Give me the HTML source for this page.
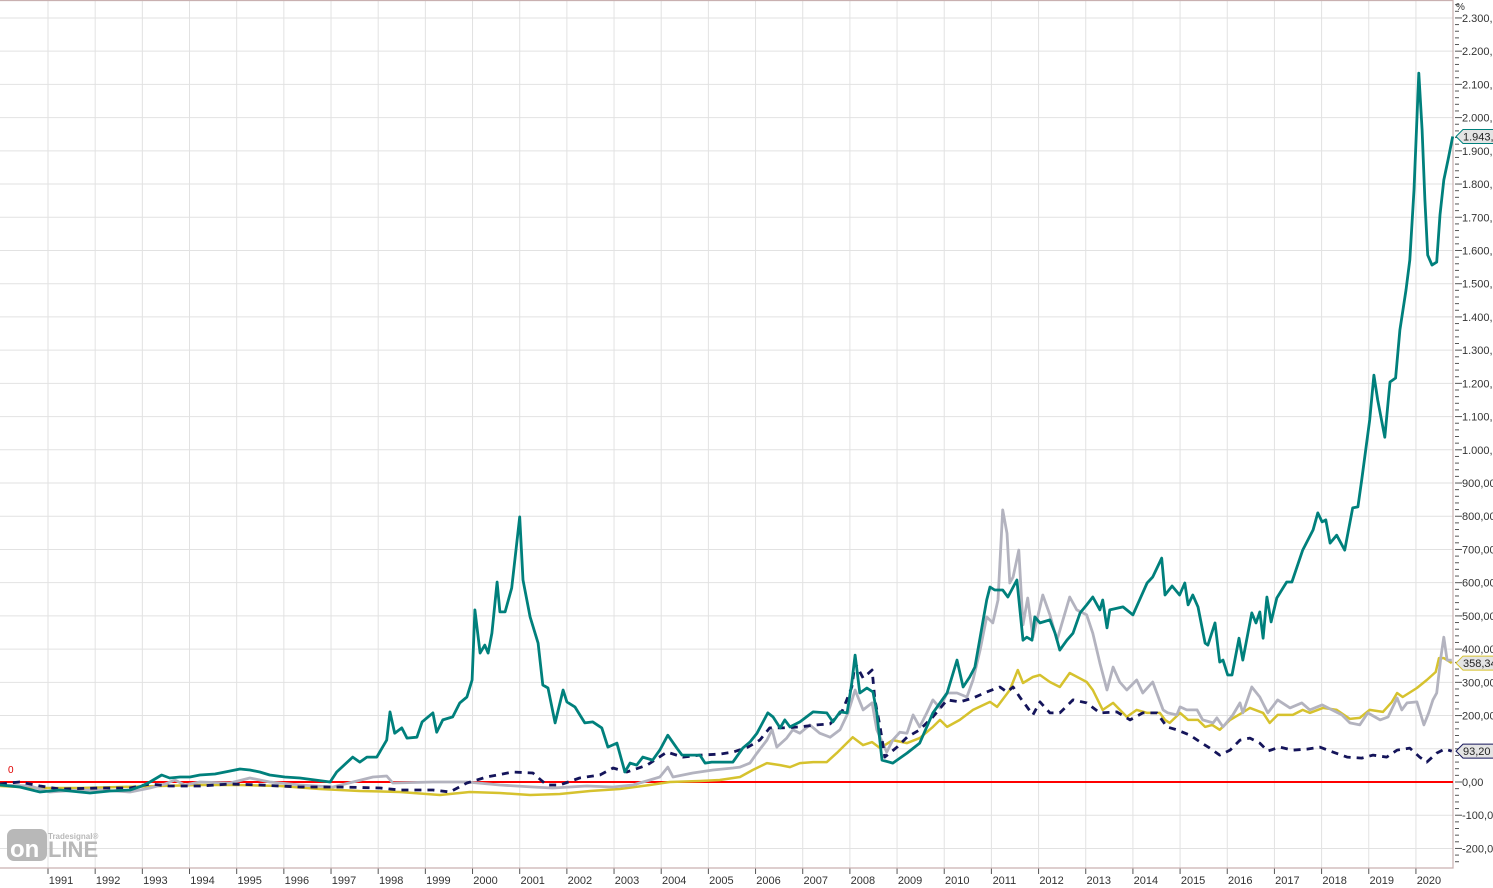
<!DOCTYPE html>
<html><head><meta charset="utf-8"><style>
html,body{margin:0;padding:0;background:#fff;width:1493px;height:888px;overflow:hidden}
svg{display:block;font-family:"Liberation Sans",sans-serif}
</style></head><body>
<svg id="chart" width="1493" height="888" viewBox="0 0 1493 888" xmlns="http://www.w3.org/2000/svg">
<g id="grid"></g>
<g id="axes"></g>
<g id="series"></g>
<g id="tags"></g>
<g>
<rect x="7" y="829" width="40" height="32" rx="7" fill="#b8b8b8"/>
<text x="10" y="857" font-size="24" font-weight="bold" fill="#fff">on</text>
<text x="48" y="857" font-size="22" font-weight="bold" fill="#b8b8b8">LINE</text>
<text x="48" y="839" font-size="8" font-weight="bold" fill="#b8b8b8">Tradesignal®</text>
</g>
<text x="8" y="773" font-size="10" fill="#e00000">0</text>
</svg>
<script>
const years=[1991,1992,1993,1994,1995,1996,1997,1998,1999,2000,2001,2002,2003,2004,2005,2006,2007,2008,2009,2010,2011,2012,2013,2014,2015,2016,2017,2018,2019,2020];
const yTicks=[-200,-100,0,100,200,300,400,500,600,700,800,900,1000,1100,1200,1300,1400,1500,1600,1700,1800,1900,2000,2100,2200,2300];
const yTickLabels=["-200,00","-100,00","0,00","100,00","200,00","300,00","400,00","500,00","600,00","700,00","800,00","900,00","1.000,00","1.100,00","1.200,00","1.300,00","1.400,00","1.500,00","1.600,00","1.700,00","1.800,00","1.900,00","2.000,00","2.100,00","2.200,00","2.300,00"];

const tealT=[1989.98,1990.40,1990.83,1991.25,1991.89,1992.31,1992.74,1992.99,1993.16,1993.41,1993.58,1993.80,1994.01,1994.22,1994.54,1994.86,1995.07,1995.28,1995.49,1995.70,1996.02,1996.34,1996.98,1997.12,1997.46,1997.61,1997.76,1997.97,1998.18,1998.25,1998.35,1998.50,1998.61,1998.82,1998.93,1999.16,1999.24,1999.37,1999.58,1999.73,1999.88,1999.99,2000.05,2000.16,2000.26,2000.33,2000.41,2000.52,2000.58,2000.69,2000.83,2001.00,2001.07,2001.22,2001.39,2001.49,2001.60,2001.75,2001.92,2002.00,2002.17,2002.38,2002.55,2002.74,2002.87,2003.06,2003.23,2003.34,2003.48,2003.61,2003.82,2003.97,2004.14,2004.33,2004.44,2004.82,2004.93,2005.07,2005.24,2005.52,2005.73,2005.88,2006.03,2006.26,2006.37,2006.52,2006.62,2006.73,2006.94,2007.22,2007.51,2007.64,2007.79,2007.94,2008.04,2008.11,2008.21,2008.36,2008.49,2008.57,2008.68,2008.91,2009.21,2009.48,2009.76,2010.06,2010.27,2010.40,2010.54,2010.65,2010.90,2010.97,2011.07,2011.24,2011.35,2011.54,2011.67,2011.75,2011.86,2011.92,2012.03,2012.24,2012.35,2012.45,2012.60,2012.73,2012.88,2013.02,2013.15,2013.30,2013.36,2013.45,2013.51,2013.79,2014.00,2014.30,2014.42,2014.61,2014.68,2014.83,2014.99,2015.10,2015.17,2015.27,2015.38,2015.53,2015.59,2015.74,2015.84,2015.91,2016.01,2016.10,2016.25,2016.33,2016.52,2016.61,2016.69,2016.76,2016.84,2016.93,2017.05,2017.26,2017.37,2017.60,2017.82,2017.92,2018.01,2018.09,2018.18,2018.32,2018.49,2018.66,2018.77,2018.85,2019.02,2019.11,2019.19,2019.34,2019.45,2019.57,2019.66,2019.79,2019.87,2019.96,2020.06,2020.13,2020.19,2020.25,2020.34,2020.44,2020.51,2020.59,2020.68,2020.78];
const tealV=[-9,-15,-30,-24,-33,-27,-24,-12,0,21,12,15,15,21,24,33,39,36,30,21,15,12,0,30,75,60,75,75,126,211,147,163,132,135,181,208,150,187,196,238,256,307,518,388,412,388,448,602,512,512,584,798,608,497,418,292,283,178,277,241,226,178,181,163,105,117,30,57,51,75,66,96,141,102,81,81,57,60,60,60,102,120,147,208,196,163,187,166,181,211,208,181,211,208,298,382,268,283,271,208,66,57,87,117,208,268,367,286,316,346,548,587,578,578,557,608,427,436,427,497,479,488,448,397,427,448,509,533,557,518,548,464,518,527,503,599,617,674,563,590,563,599,533,563,527,418,412,479,361,367,322,322,433,367,509,479,512,433,557,482,554,602,602,698,759,810,783,789,719,743,698,825,828,909,1090,1225,1150,1038,1204,1216,1361,1481,1571,1782,2134,1963,1752,1586,1556,1565,1707,1812,1872,1943];

const grayT=[1989.98,1990.62,1991.04,1991.68,1992.10,1992.74,1993.16,1993.48,1993.69,1993.90,1994.22,1994.86,1995.28,1995.70,1996.34,1997.04,1997.89,1998.18,1998.31,1999.16,1999.88,2000.58,2001.28,2001.70,2002.42,2002.98,2003.40,2003.76,2003.97,2004.14,2004.25,2004.67,2005.10,2005.52,2005.67,2005.88,2006.03,2006.24,2006.35,2006.45,2006.66,2006.79,2006.94,2007.15,2007.36,2007.58,2007.79,2007.96,2008.11,2008.28,2008.47,2008.57,2008.78,2008.91,2009.06,2009.21,2009.34,2009.48,2009.63,2009.76,2009.91,2010.06,2010.27,2010.48,2010.61,2010.76,2010.90,2011.03,2011.14,2011.24,2011.33,2011.39,2011.46,2011.58,2011.67,2011.77,2011.88,2012.09,2012.24,2012.39,2012.66,2012.81,2013.02,2013.15,2013.30,2013.45,2013.58,2013.72,2013.87,2014.08,2014.21,2014.42,2014.64,2014.74,2014.93,2015.00,2015.14,2015.36,2015.48,2015.70,2015.78,2015.91,2016.12,2016.27,2016.33,2016.52,2016.69,2016.86,2017.07,2017.33,2017.58,2017.75,2018.01,2018.22,2018.43,2018.60,2018.81,2018.98,2019.24,2019.41,2019.60,2019.70,2019.81,2020.02,2020.17,2020.27,2020.36,2020.44,2020.53,2020.59,2020.66,2020.76];
const grayV=[-9,-12,-30,-24,-24,-30,-18,-6,6,-9,0,-3,12,0,-9,-15,15,18,-3,0,0,-9,-15,-18,-12,-15,-9,6,15,45,15,27,36,42,45,57,87,126,157,105,132,157,147,172,147,135,157,208,277,217,238,157,90,126,150,147,202,166,208,247,223,268,268,256,307,397,497,479,548,819,749,599,617,698,473,554,436,563,503,427,557,518,503,448,358,277,346,301,277,307,268,301,217,208,202,226,217,217,187,178,193,166,202,238,208,286,256,208,247,223,238,217,232,217,202,178,172,208,187,196,253,217,238,241,172,208,247,268,376,436,367,367];

const yellowT=[1989.98,1990.83,1991.68,1992.52,1993.37,1994.22,1995.07,1995.92,1996.76,1997.61,1998.46,1999.31,1999.94,2000.58,2001.22,2001.85,2002.49,2003.12,2003.76,2004.18,2004.82,2005.24,2005.67,2005.94,2006.24,2006.52,2006.73,2006.94,2007.22,2007.51,2007.72,2008.06,2008.28,2008.47,2008.64,2008.91,2009.21,2009.48,2009.76,2009.91,2010.06,2010.33,2010.61,2010.97,2011.12,2011.39,2011.56,2011.67,2011.88,2012.03,2012.24,2012.45,2012.66,2013.02,2013.15,2013.36,2013.58,2013.87,2014.08,2014.30,2014.57,2014.68,2014.78,2015.00,2015.17,2015.38,2015.53,2015.68,2015.84,2016.06,2016.31,2016.48,2016.76,2016.90,2017.07,2017.39,2017.60,2017.75,2018.03,2018.32,2018.60,2018.81,2019.02,2019.30,2019.49,2019.60,2019.72,2020.02,2020.23,2020.42,2020.49,2020.59,2020.76];
const yellowV=[-12,-18,-18,-15,-12,-9,-9,-12,-21,-27,-30,-39,-30,-33,-39,-36,-27,-21,-9,0,3,6,15,36,57,51,45,57,60,60,87,135,111,120,102,126,117,132,166,187,166,187,217,241,226,277,337,298,316,322,301,286,328,301,277,217,238,196,217,208,208,187,178,208,187,187,166,172,157,187,208,223,208,178,202,202,217,208,223,217,190,193,217,211,241,268,256,283,307,331,373,373,358];

const navyT=[1989.98,1990.40,1990.83,1991.25,1992.10,1992.74,1993.16,1993.58,1994.22,1994.86,1995.49,1996.34,1997.19,1998.04,1998.46,1999.16,1999.52,1999.88,2000.30,2000.85,2001.28,2001.57,2001.85,2002.27,2002.70,2002.98,2003.27,2003.70,2004.12,2004.46,2004.82,2005.24,2005.52,2005.84,2006.09,2006.30,2006.58,2006.94,2007.30,2007.58,2007.85,2008.04,2008.11,2008.28,2008.47,2008.53,2008.64,2008.74,2009.00,2009.21,2009.48,2009.76,2010.06,2010.33,2010.61,2010.90,2011.18,2011.33,2011.46,2011.60,2011.88,2012.03,2012.24,2012.45,2012.73,2013.02,2013.30,2013.66,2013.94,2014.21,2014.51,2014.72,2014.93,2015.21,2015.46,2015.63,2015.84,2016.06,2016.27,2016.48,2016.69,2016.86,2017.11,2017.39,2017.69,2017.96,2018.24,2018.54,2018.85,2019.09,2019.38,2019.60,2019.87,2020.08,2020.23,2020.44,2020.61,2020.76];
const navyV=[-6,0,-12,-21,-18,-18,-6,-12,-12,-6,-9,-15,-15,-18,-24,-24,-30,-3,15,30,27,-9,-9,12,21,42,30,51,90,75,81,84,90,105,126,163,163,166,172,175,217,286,358,313,337,247,166,75,105,135,157,196,247,241,253,271,286,271,286,256,202,241,208,208,247,238,208,211,187,208,208,166,157,141,117,102,81,96,126,132,117,93,105,96,99,105,90,75,72,81,75,96,102,75,60,87,99,93];

const NS="http://www.w3.org/2000/svg";
const PL=0,PR=1453,PT=0,PB=868;
function xs(t){return 48+(t-1991)*47.17;}
function ys(v){return 782-v*0.3322;}
function mk(tag,attrs,parent){const e=document.createElementNS(NS,tag);for(const k in attrs)e.setAttribute(k,attrs[k]);parent.appendChild(e);return e;}
const grid=document.getElementById('grid'),axes=document.getElementById('axes'),series=document.getElementById('series'),tags=document.getElementById('tags');

yTicks.forEach((v,i)=>{
  const y=ys(v);
  const g=mk('line',{x1:PL,x2:PR,y1:y,y2:y,stroke:'#e2e2e2','stroke-width':1},grid);
  
  
  const tk=mk('line',{x1:PR+2,x2:PR+9,y1:y,y2:y,stroke:'#555','stroke-width':1},axes);
  
  
  const t=mk('text',{x:1462,y:y+4,'font-size':11,fill:'#333'},axes);
  t.textContent=yTickLabels[i];
  
  
});
for(let v=-240;v<=2340;v+=20){
  if(v%100===0)continue;
  const y=ys(v);
  const m=mk('line',{x1:PR+2,x2:PR+6,y1:y,y2:y,stroke:'#555','stroke-width':1},axes);
  
  
}
years.forEach(yr=>{
  const x=xs(yr);
  const g=mk('line',{x1:x,x2:x,y1:PT,y2:PB,stroke:'#e2e2e2','stroke-width':1},grid);
  
  
  const tk=mk('line',{x1:x,x2:x,y1:PB,y2:PB+6,stroke:'#555','stroke-width':1},axes);
  
  
  const t=mk('text',{x:x+13,y:884,'font-size':11,fill:'#333','text-anchor':'middle'},axes);
  t.textContent=String(yr);
  
  
});
const fr=mk('path',{d:`M0 0.5 H${PR} V${PB} H0`,fill:'none',stroke:'#c9b0b0','stroke-width':1.2},axes);


const pct=mk('text',{x:1456,y:10,'font-size':10,fill:'#333'},axes);
pct.textContent='%';


const zl=mk('line',{x1:0,x2:PR,y1:ys(0),y2:ys(0),stroke:'#ff0000','stroke-width':2},series);



function drawLine(T,V,color,w,dash,name){
  const d=T.map((t,i)=>(i?'L':'M')+xs(t).toFixed(1)+' '+ys(V[i]).toFixed(1)).join(' ');
  const p=mk('path',{d:d,fill:'none',stroke:color,'stroke-width':w,'stroke-linejoin':'round'},series);
  if(dash)p.setAttribute('stroke-dasharray',dash);
  
  
}
drawLine(yellowT,yellowV,'#d6c22e',2.5,null,'yellow-series-line');
drawLine(grayT,grayV,'#b3b3bf',2.8,null,'gray-series-line');
drawLine(navyT,navyV,'#14145a',2.8,'7,6','navy-dashed-series-line');
drawLine(tealT,tealV,'#00807c',2.8,null,'teal-series-line');

function tag(v,label,border,fill,name){
  const y=ys(v);
  const p=mk('path',{d:`M${PR+3} ${y} L${PR+10} ${y-7} H1495 V${y+7} H${PR+10} Z`,fill:fill,stroke:border,'stroke-width':1},tags);
  
  
  const t=mk('text',{x:1463,y:y+4,'font-size':11,fill:'#222'},tags);
  t.textContent=label;
  
  
}
tag(tealV[tealV.length-1],'1.943,00','#00807c','#e4e4e4','teal-last-value');
tag(yellowV[yellowV.length-1],'358,34','#d6c22e','#e4e4e4','yellow-last-value');
tag(navyV[navyV.length-1],'93,20','#14145a','#e4e4e4','navy-last-value');
</script>
</body></html>
